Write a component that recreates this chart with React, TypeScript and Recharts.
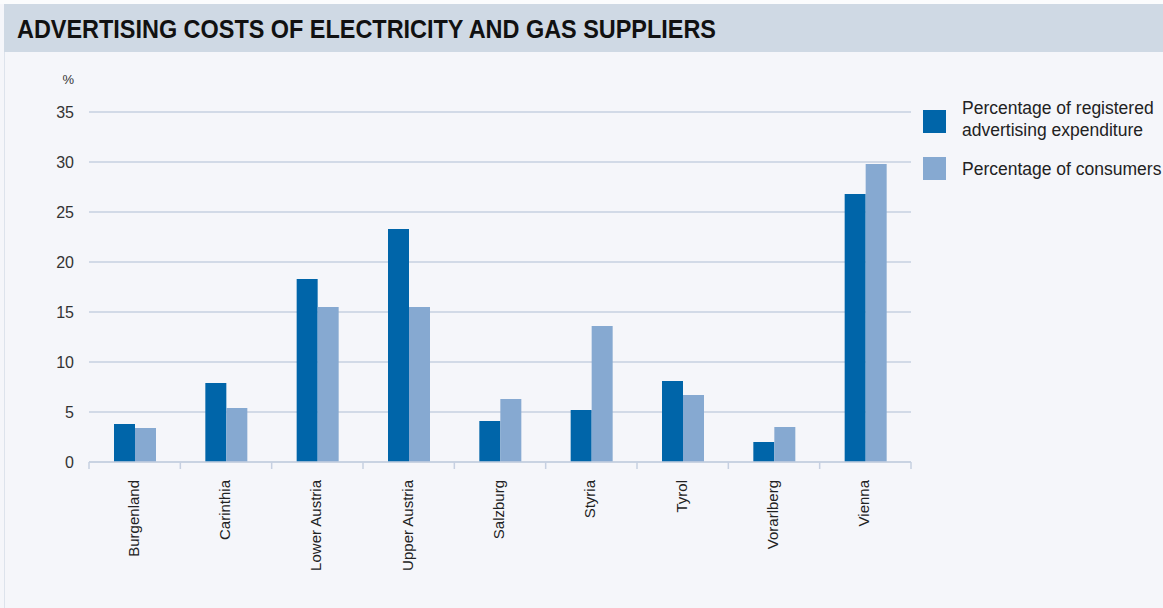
import { Bar, BarChart, CartesianGrid, XAxis, YAxis } from "recharts"

const TITLE = "ADVERTISING COSTS OF ELECTRICITY AND GAS SUPPLIERS"
const REGIONS = [
  "Burgenland",
  "Carinthia",
  "Lower Austria",
  "Upper Austria",
  "Salzburg",
  "Styria",
  "Tyrol",
  "Vorarlberg",
  "Vienna",
]
const AD_SPEND = [3.8, 7.9, 18.3, 23.3, 4.1, 5.2, 8.1, 2.0, 26.8]
const CONSUMERS = [3.4, 5.4, 15.5, 15.5, 6.3, 13.6, 6.7, 3.5, 29.8]
const Y_TICKS = [0, 5, 10, 15, 20, 25, 30, 35]
const LEGEND_LINES = [
  ["Percentage of registered", "advertising expenditure"],
  ["Percentage of consumers"],
]

const DARK = "#0065a9"
const LIGHT = "#86a9d1"
const GRID = "#c6d0e1"
const FONT = "'Liberation Sans', Arial, sans-serif"

const W = 1163
const H = 608
const PLOT_LEFT = 89
const PLOT_RIGHT = 911
const BAND = (PLOT_RIGHT - PLOT_LEFT) / REGIONS.length

const data = REGIONS.map((region, i) => ({
  region,
  spend: AD_SPEND[i],
  consumers: CONSUMERS[i],
}))

function RegionTick(props: any) {
  const { x, y, payload, index } = props
  const last = index === REGIONS.length - 1
  return (
    <g>
      <line x1={x - BAND / 2} x2={x - BAND / 2} y1={y} y2={y + 7} stroke={GRID} strokeWidth={1.5} />
      {last && <line x1={x + BAND / 2} x2={x + BAND / 2} y1={y} y2={y + 7} stroke={GRID} strokeWidth={1.5} />}
      <text
        transform={`translate(${x + 4},${y + 18}) rotate(-90)`}
        textAnchor="end"
        fontSize={15}
        fontFamily={FONT}
        fill="#222"
      >
        {payload.value}
      </text>
    </g>
  )
}

export default function App() {
  return (
    <div style={{ position: "absolute", left: 0, top: 0, width: W, height: H, background: "#f5f6fa", overflow: "hidden", fontFamily: FONT }}>
      <div style={{ position: "absolute", left: 0, top: 0, width: W, height: 4, background: "#fbfcfd" }} />
      <div style={{ position: "absolute", left: 4, top: 4, width: W - 4, height: 48, background: "#cfd9e4" }}>
        <svg width={W - 4} height={48}>
          <text
            x={13}
            y={33.5}
            fontSize={25}
            fontWeight="bold"
            fontFamily={FONT}
            fill="#111"
            textLength={699}
            lengthAdjust="spacingAndGlyphs"
          >
            {TITLE}
          </text>
        </svg>
      </div>
      <div style={{ position: "absolute", left: 4, top: 52, width: 1, height: H - 52, background: "#dde3ec" }} />

      <div style={{ position: "absolute", left: 0, top: 0 }}>
        <BarChart
          width={W}
          height={H}
          data={data}
          margin={{ top: 112, right: W - PLOT_RIGHT, bottom: 46, left: PLOT_LEFT - 60 }}
          barGap={0}
        >
          <CartesianGrid vertical={false} stroke={GRID} strokeWidth={1.3} />
          <XAxis
            dataKey="region"
            height={100}
            interval={0}
            tickSize={0}
            tickMargin={0}
            axisLine={{ stroke: GRID, strokeWidth: 1.5 }}
            tickLine={false}
            tick={<RegionTick />}
          />
          <YAxis
            width={60}
            domain={[0, 35]}
            ticks={Y_TICKS}
            axisLine={false}
            tickLine={false}
            tickSize={0}
            tickMargin={15}
            tick={{ fontSize: 16, fill: "#333", fontFamily: FONT }}
          />
          <Bar dataKey="spend" fill={DARK} barSize={21} isAnimationActive={false} />
          <Bar dataKey="consumers" fill={LIGHT} barSize={21} isAnimationActive={false} />
        </BarChart>
      </div>

      <div style={{ position: "absolute", left: 54, top: 72, width: 20, textAlign: "right", fontSize: 13, color: "#333" }}>%</div>

      {LEGEND_LINES.map((lines, i) => {
        const top = i === 0 ? 97 : 158
        return (
          <div key={i}>
            <div
              style={{
                position: "absolute",
                left: 923,
                top: i === 0 ? 110 : 157,
                width: 23,
                height: 23,
                background: i === 0 ? DARK : LIGHT,
              }}
            />
            <div style={{ position: "absolute", left: 962, top, fontSize: 17.5, lineHeight: "22px", color: "#222", whiteSpace: "nowrap" }}>
              {lines.map((l) => (
                <div key={l}>{l}</div>
              ))}
            </div>
          </div>
        )
      })}
    </div>
  )
}
